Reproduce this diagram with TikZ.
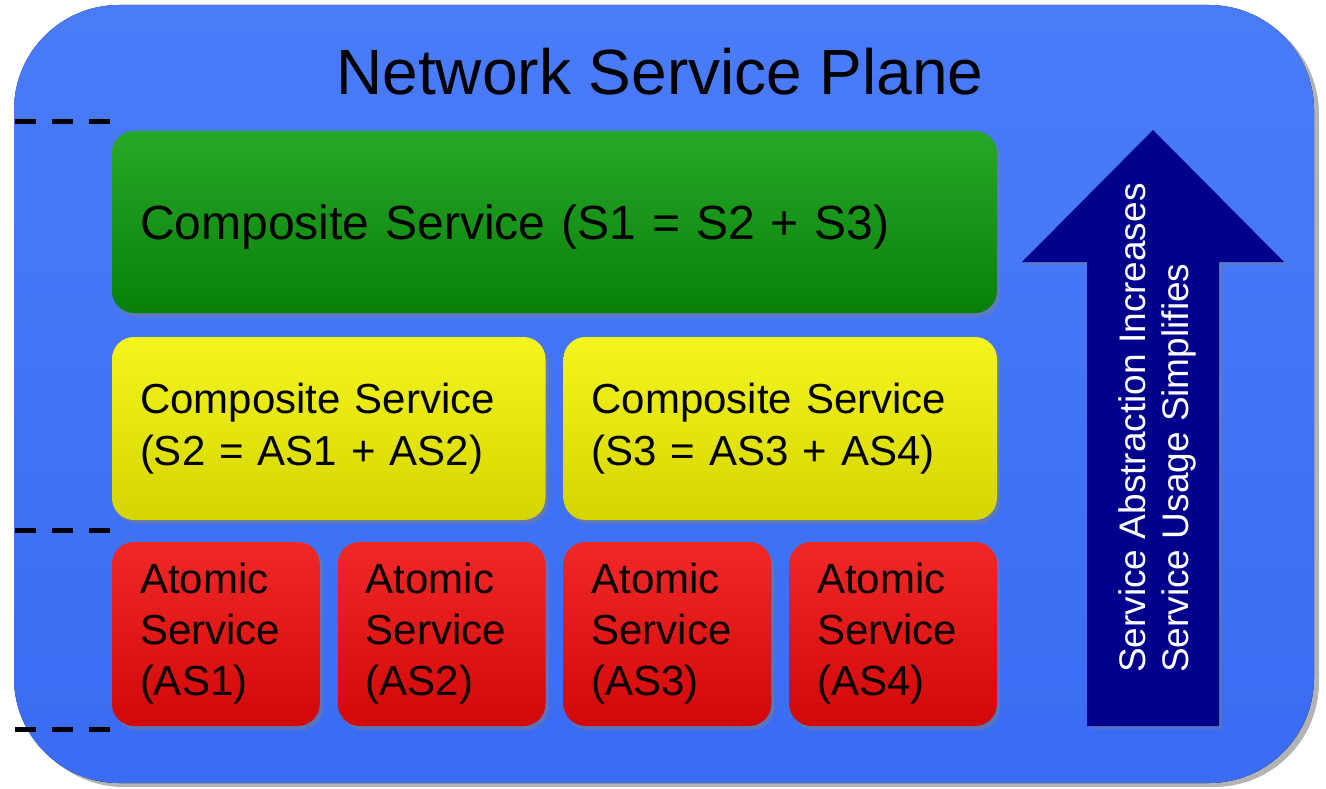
\documentclass[tikz,border=0pt]{standalone}
\usepackage{fontspec}
\setmainfont{Liberation Sans}
\usetikzlibrary{positioning,shadows}
\definecolor{planeblue}{HTML}{3A6CF4}
\definecolor{planetop}{HTML}{4A7CF8}
\definecolor{arrownavy}{HTML}{00008C}
\tikzstyle{svcbox} = [rectangle, rounded corners=22pt, outer sep=0pt, inner xsep=28pt, inner ysep=0pt, align=left, anchor=north west, drop shadow={shadow xshift=3pt, shadow yshift=-4pt, opacity=0.45}]
\tikzstyle{greenbox} = [svcbox, text depth=0pt, top color={rgb,255:red,40;green,168;blue,40}, middle color={rgb,255:red,10;green,140;blue,10}, bottom color={rgb,255:red,8;green,128;blue,8}, minimum width=885pt, minimum height=182pt, text width=829pt, font=\fontsize{48}{52}\selectfont]
\tikzstyle{yellowbox} = [svcbox, top color={rgb,255:red,245;green,245;blue,30}, middle color={rgb,255:red,230;green,230;blue,0}, bottom color={rgb,255:red,212;green,212;blue,0}, minimum width=433.5pt, minimum height=183pt, text width=377.5pt, font=\fontsize{42}{52}\selectfont]
\tikzstyle{redbox} = [svcbox, top color={rgb,255:red,240;green,40;blue,40}, middle color={rgb,255:red,228;green,10;blue,10}, bottom color={rgb,255:red,210;green,8;blue,8}, minimum width=207.75pt, minimum height=184pt, text width=151.75pt, font=\fontsize{42}{51}\selectfont]
\tikzstyle{levelmark} = [draw, line width=5pt, dash pattern=on 21pt off 16pt]

\begin{document}
\begin{tikzpicture}[x=1pt, y=-1pt, node distance=18pt]
        \useasboundingbox (0,0) rectangle (1326,789);
        % plane
        \fill[rounded corners=105pt, top color=planetop, bottom color=planeblue,
              drop shadow={shadow xshift=5pt, shadow yshift=-4pt, opacity=0.6}]
              (14,5) rectangle (1314,783);
        \node[anchor=base, font=\fontsize{64}{70}\selectfont] (title) at (660,95) {Network Service Plane};
        % levels
        \foreach \ly in {122,530,729}
            \draw[levelmark] (15,\ly) -- (111,\ly);
        % services
        \node[greenbox] (s1) at (112,131) {Composite Service (S1 = S2 + S3)};
        \node[yellowbox, below right=24pt and 0pt of s1.south west] (s2) {Composite Service\\(S2 = AS1 + AS2)};
        \node[yellowbox, right=of s2] (s3) {Composite Service\\(S3 = AS3 + AS4)};
        \node[redbox, below right=22pt and 0pt of s2.south west] (as1) {Atomic\\Service\\(AS1)};
        \node[redbox, right=of as1] (as2) {Atomic\\Service\\(AS2)};
        \node[redbox, right=of as2] (as3) {Atomic\\Service\\(AS3)};
        \node[redbox, right=of as3] (as4) {Atomic\\Service\\(AS4)};
        % abstraction arrow
        \fill[arrownavy, drop shadow={shadow xshift=3pt, shadow yshift=-3pt, opacity=0.35}]
            (1087,726) -- (1087,262) -- (1022,262) -- (1153,130) -- (1284,262)
            -- (1219,262) -- (1219,726) -- cycle;
        \node[rotate=90, anchor=west, align=left, inner sep=0pt, text=white,
              font=\fontsize{37}{43}\selectfont] (trend) at (1157,673)
            {Service Abstraction Increases\\Service Usage Simplifies};
    \end{tikzpicture}
\end{document}
